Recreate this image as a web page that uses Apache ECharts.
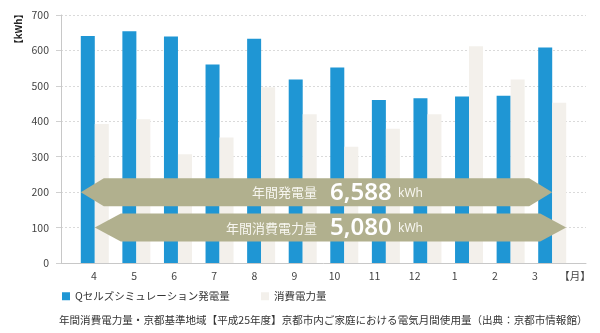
<!DOCTYPE html>
<html>
<head>
<meta charset="utf-8">
<script src="https://cdn.jsdelivr.net/npm/echarts@6/dist/echarts.min.js"></script>
<style>html,body{margin:0;padding:0;background:#fff}#c{width:600px;height:333px}</style>
</head>
<body>
<div id="c"></div>
<script>
// ---- data ----
const months = ['4','5','6','7','8','9','10','11','12','1','2','3'];
const monthLabels = ['4','5','6','7','8','9','10','11','12','1','2','3','【月】'];
const generation = [641,654,639,560,633,518,552,460,465,470,472,608];
const consumption = [392,406,307,354,496,420,328,379,420,612,518,452];
const seriesNames = ['Qセルズシミュレーション発電量','消費電力量'];
const yMin = 0, yMax = 700, yStep = 100;
const annualGeneration = '6,588';
const annualConsumption = '5,080';
const annualLabels = ['年間発電量','年間消費電力量'];
const unit = 'kWh';
const yAxisTitle = '【kWh】';
const footnote = '年間消費電力量・京都基準地域【平成25年度】京都市内ご家庭における電気月間使用量（出典：京都市情報館）';

// ---- chart ----
const font = '"Noto Sans CJK JP", "Noto Sans", sans-serif';
const chart = echarts.init(document.getElementById('c'), null, {renderer:'canvas'});
const hiddenY = i => ({gridIndex:i, type:'value', min:yMin, max:yMax, interval:yStep, show:false});
const legendBase = {padding:0, itemWidth:8, itemHeight:8, icon:'rect', top:291,
  textStyle:{fontSize:10.5, color:'#333', fontFamily:font}};
chart.setOption({
  animation:false,
  textStyle:{fontFamily:font},
  title:{text:footnote, left:59, top:315, padding:0,
    textStyle:{fontSize:10.55, fontWeight:'normal', color:'#333', fontFamily:font}},
  grid:[
    {left:61, right:14, top:15, height:248},
    {left:74, width:499, top:15, height:248},
    {left:74, width:521, top:15, height:248}
  ],
  xAxis:[
    {gridIndex:0, type:'value', min:0, max:1, axisLine:{show:true, lineStyle:{color:'#c8c8c8'}},
      axisTick:{show:false}, axisLabel:{show:false}, splitLine:{show:false}},
    {gridIndex:1, type:'category', data:months, axisLine:{show:false}, axisTick:{show:false}, axisLabel:{show:false}},
    {gridIndex:2, type:'category', data:monthLabels, axisLine:{show:false}, axisTick:{show:false},
      axisLabel:{color:'#444', fontSize:10.5, margin:8, interval:0}}
  ],
  yAxis:[
    {gridIndex:0, type:'value', min:yMin, max:yMax, interval:yStep,
      axisLine:{show:true, lineStyle:{color:'#c8c8c8'}},
      axisTick:{show:true, length:5, lineStyle:{color:'#d0d0d0'}},
      axisLabel:{color:'#444', fontSize:10.5, margin:12},
      splitLine:{lineStyle:{color:'#dadada', type:[2,2]}}},
    hiddenY(1), hiddenY(2)
  ],
  legend:[
    Object.assign({}, legendBase, {data:[seriesNames[0]], left:62}),
    Object.assign({}, legendBase, {data:[seriesNames[1]], left:261})
  ],
  series:[
    {name:seriesNames[0], type:'bar', xAxisIndex:1, yAxisIndex:1, data:generation,
      barWidth:14, barGap:'0%', itemStyle:{color:'#1f96d4'}},
    {name:seriesNames[1], type:'bar', xAxisIndex:1, yAxisIndex:1, data:consumption,
      barWidth:14, barGap:'0%', itemStyle:{color:'#f3f0eb'}}
  ]
});

// ---- annotation arrows anchored to axes ----
const yPix = v => chart.convertToPixel({yAxisIndex:0}, v);
const xPix = c => chart.convertToPixel({xAxisIndex:1}, c);
const bw = 14;
const first = xPix(months[0]), last = xPix(months[months.length-1]);
function arrow(xL, xR, yc, h, d, label, value) {
  const pts = [[xL,yc],[xL+d,yc-h],[xR-d,yc-h],[xR,yc],[xR-d,yc+h],[xL+d,yc+h]];
  return [
    {type:'polygon', z:100, shape:{points:pts}, style:{fill:'#b1b08e'}},
    {type:'text', z:101, x:317, y:yc, style:{text:label, align:'right', verticalAlign:'middle',
      fill:'#f7f6f0', font:'13px ' + font}},
    {type:'text', z:101, x:330, y:yc+1, style:{text:value, align:'left', verticalAlign:'middle',
      fill:'#ffffff', font:'600 24px "Noto Sans", "Open Sans", sans-serif'}},
    {type:'text', z:101, x:398, y:yc+1, style:{text:unit, align:'left', verticalAlign:'middle',
      fill:'#f7f6f0', font:'12px "Noto Sans", sans-serif'}}
  ];
}
const elems = [].concat(
  arrow(first - bw, last, yPix(200), 14, 23, annualLabels[0], annualGeneration),
  arrow(first, last + bw, yPix(100), 14, 26, annualLabels[1], annualConsumption),
  [{type:'text', x:18, y:29, rotation:Math.PI/2, style:{text:yAxisTitle, align:'center', verticalAlign:'middle',
    fill:'#222', font:'bold 9.5px ' + font}}]
);
chart.setOption({graphic:{elements:elems}});
</script>
</body>
</html>
